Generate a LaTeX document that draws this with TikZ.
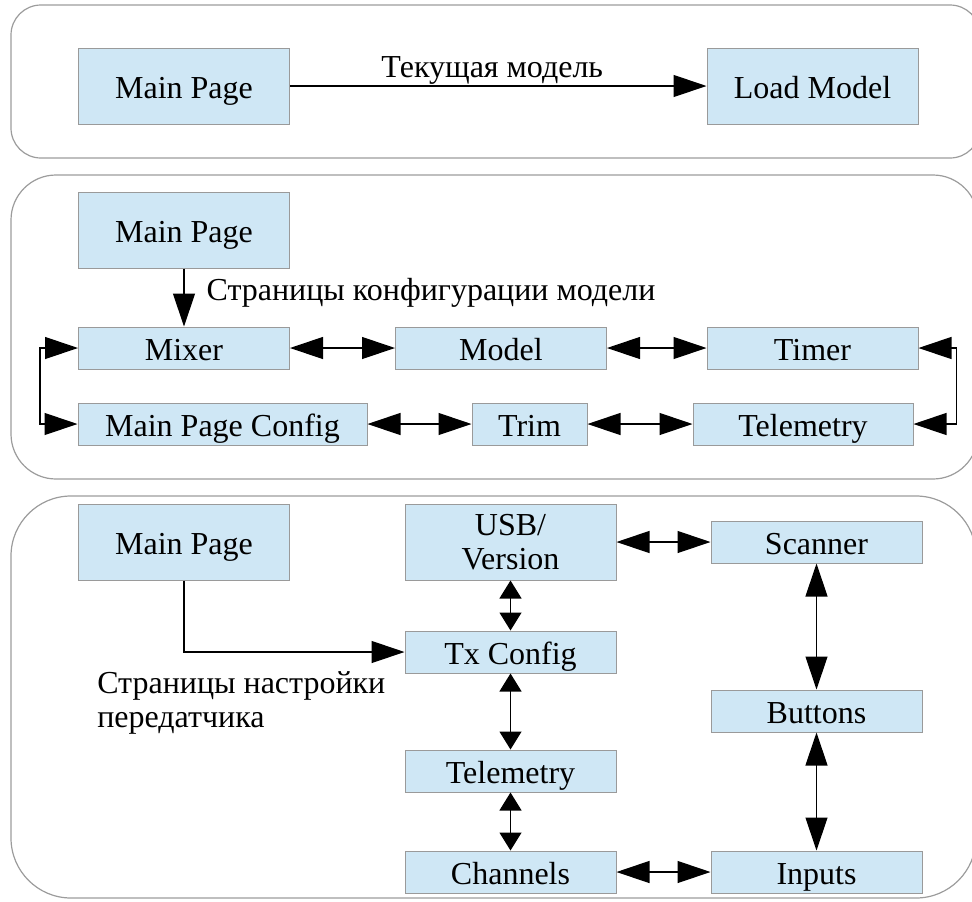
\documentclass[tikz,border=0pt]{standalone}
\usepackage{fontspec}
\setmainfont{Liberation Serif}
\usepackage{xcolor}
\usetikzlibrary{arrows.meta, positioning, calc}
\definecolor{pageblue}{HTML}{CFE7F5}
\definecolor{pageline}{HTML}{9A9A9A}
\definecolor{groupline}{HTML}{9C9C9C}

\begin{document}
\begin{tikzpicture}[
      x=0.75pt, y=-0.75pt,
      groupbox/.style={draw=groupline, line width=0.9pt},
      basebox/.style={draw=pageline, fill=pageblue, line width=0.75pt, inner sep=0pt, minimum width=158.25pt, minimum height=31.5pt, align=center, font=\fontsize{24}{26}\selectfont},
      pagebox/.style={basebox, text height=18pt, text depth=0pt},
      tallbox/.style={pagebox, minimum height=57pt},
      arrow/.style={-{Triangle[length=24.75pt, width=16.5pt]}, line width=0.9pt},
      twoway/.style={{Triangle[length=24.75pt, width=16.5pt]}-{Triangle[length=24.75pt, width=16.5pt]}, line width=0.9pt},
      shorttwoway/.style={{Triangle[length=13.5pt, width=16.5pt]}-{Triangle[length=13.5pt, width=16.5pt]}, line width=0.9pt},
      lab/.style={inner sep=0pt, font=\fontsize{24}{26}\selectfont}
    ]
      \useasboundingbox (0,0) rectangle (972,901);
      \clip (0,0) rectangle (972,901);

      % Group frames
      \draw[groupbox, rounded corners=22.5pt] (11,5) rectangle (980,158);
      \draw[groupbox, rounded corners=33.75pt] (11,175) rectangle (978,479);
      \draw[groupbox, rounded corners=45pt] (11,496) rectangle (976,898);

      % Current model
      \node[tallbox] (main1) at (184,86) {Main Page};
      \node[tallbox] (load) at (812.5,86) {Load Model};
      \draw[arrow]
        (main1.east) --
        node[lab, anchor=base, yshift=6.5pt, xshift=-4.5pt] {Текущая модель}
        (load.west);

      % Model config pages
      \node[tallbox] (main2) at (184,230) {Main Page};
      \node[pagebox] (mixer) at (184,348) {Mixer};
      \node[pagebox] (model) at (501,348) {Model};
      \node[pagebox] (timer) at (812.5,348) {Timer};
      \node[pagebox, minimum width=216.75pt] (mainpagecfg) at (222.5,424) {Main Page Config};
      \node[pagebox, minimum width=86.25pt] (trim) at (529.5,424) {Trim};
      \node[pagebox, minimum width=165pt] (telem1) at (803,424) {Telemetry};

      \draw[arrow]
        (main2.south) --
        node[lab, anchor=base west, pos=0.55, xshift=16.5pt] {Страницы конфигурации модели}
        (mixer.north);
      \draw[twoway] (mixer.east) -- (model.west);
      \draw[twoway] (model.east) -- (timer.west);
      \draw[twoway] (mainpagecfg.east) -- (trim.west);
      \draw[twoway] (trim.east) -- (telem1.west);
      \draw[twoway] (mixer.west) -- ++(-38,0) |- (mainpagecfg.west);
      \draw[twoway] (timer.east) -- ++(38,0) |- (telem1.east);

      % Transmitter config pages
      \node[tallbox] (main3) at (184,542) {Main Page};
      \node[basebox, minimum height=57pt] (usb) at (510.5,542) {USB/\\Version};
      \node[pagebox] (scanner) at (816.5,542) {Scanner};
      \node[pagebox] (txcfg) at (510.5,652) {Tx Config};
      \node[pagebox] (telem2) at (510.5,771) {Telemetry};
      \node[pagebox] (channels) at (510.5,872) {Channels};
      \node[pagebox] (buttons) at (816.5,711) {Buttons};
      \node[pagebox] (inputs) at (816.5,872) {Inputs};

      \draw[arrow] (main3.south) |- (txcfg.west);
      \node[lab, anchor=north west, align=left] (txlabel) at (97,671) {Страницы настройки\\передатчика};

      \draw[twoway] (usb.east) -- (scanner.west);
      \draw[shorttwoway] (usb.south) -- (txcfg.north);
      \draw[shorttwoway] (txcfg.south) -- (telem2.north);
      \draw[shorttwoway] (telem2.south) -- (channels.north);
      \draw[twoway] (scanner.south) -- (buttons.north);
      \draw[twoway] (buttons.south) -- (inputs.north);
      \draw[twoway] (channels.east) -- (inputs.west);
    \end{tikzpicture}
\end{document}
